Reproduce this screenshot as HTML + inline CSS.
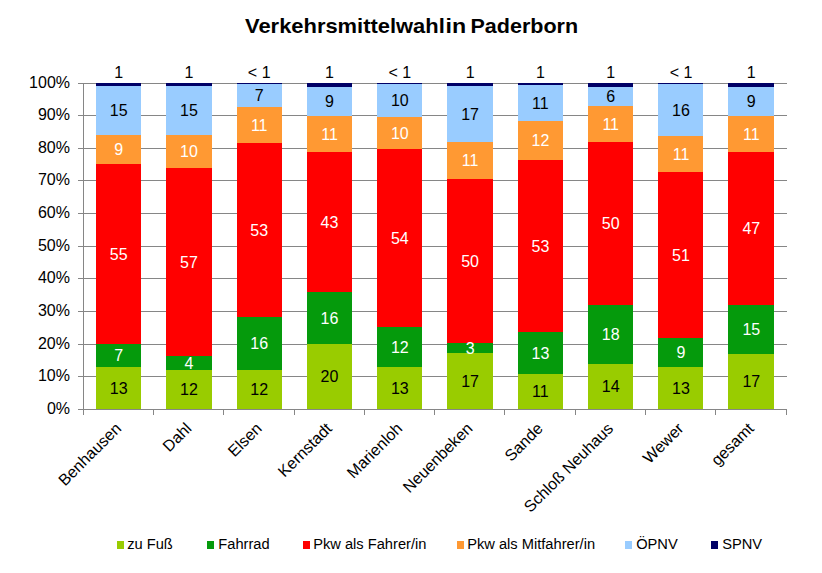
<!DOCTYPE html>
<html><head><meta charset="utf-8"><title>Verkehrsmittelwahl in Paderborn</title>
<style>html,body{margin:0;padding:0;background:#fff}body{width:822px;height:573px;overflow:hidden}</style></head>
<body>
<svg width="822" height="573" viewBox="0 0 822 573" style="display:block;font-family:'Liberation Sans',sans-serif">
<rect width="822" height="573" fill="#fff"/>
<rect x="78" y="409" width="709" height="1" fill="#868686"/>
<rect x="78" y="376" width="709" height="1" fill="#868686"/>
<rect x="78" y="344" width="709" height="1" fill="#868686"/>
<rect x="78" y="311" width="709" height="1" fill="#868686"/>
<rect x="78" y="278" width="709" height="1" fill="#868686"/>
<rect x="78" y="246" width="709" height="1" fill="#868686"/>
<rect x="78" y="213" width="709" height="1" fill="#868686"/>
<rect x="78" y="180" width="709" height="1" fill="#868686"/>
<rect x="78" y="148" width="709" height="1" fill="#868686"/>
<rect x="78" y="115" width="709" height="1" fill="#868686"/>
<rect x="78" y="83" width="709" height="1" fill="#868686"/>
<rect x="96" y="367" width="45" height="42" fill="#99CC00"/>
<rect x="96" y="344" width="45" height="23" fill="#059A0C"/>
<rect x="96" y="164" width="45" height="180" fill="#FF0000"/>
<rect x="96" y="135" width="45" height="29" fill="#FF9933"/>
<rect x="96" y="86" width="45" height="49" fill="#99CCFF"/>
<rect x="96" y="83" width="45" height="3" fill="#000066"/>
<rect x="166" y="370" width="46" height="39" fill="#99CC00"/>
<rect x="166" y="356" width="46" height="14" fill="#059A0C"/>
<rect x="166" y="168" width="46" height="188" fill="#FF0000"/>
<rect x="166" y="135" width="46" height="33" fill="#FF9933"/>
<rect x="166" y="86" width="46" height="49" fill="#99CCFF"/>
<rect x="166" y="83" width="46" height="3" fill="#000066"/>
<rect x="237" y="370" width="45" height="39" fill="#99CC00"/>
<rect x="237" y="317" width="45" height="53" fill="#059A0C"/>
<rect x="237" y="143" width="45" height="174" fill="#FF0000"/>
<rect x="237" y="107" width="45" height="36" fill="#FF9933"/>
<rect x="237" y="84" width="45" height="23" fill="#99CCFF"/>
<rect x="237" y="83" width="45" height="1" fill="#000066"/>
<rect x="307" y="344" width="45" height="65" fill="#99CC00"/>
<rect x="307" y="292" width="45" height="52" fill="#059A0C"/>
<rect x="307" y="152" width="45" height="140" fill="#FF0000"/>
<rect x="307" y="116" width="45" height="36" fill="#FF9933"/>
<rect x="307" y="87" width="45" height="29" fill="#99CCFF"/>
<rect x="307" y="83" width="45" height="4" fill="#000066"/>
<rect x="377" y="367" width="45" height="42" fill="#99CC00"/>
<rect x="377" y="327" width="45" height="40" fill="#059A0C"/>
<rect x="377" y="149" width="45" height="178" fill="#FF0000"/>
<rect x="377" y="117" width="45" height="32" fill="#FF9933"/>
<rect x="377" y="84" width="45" height="33" fill="#99CCFF"/>
<rect x="377" y="83" width="45" height="1" fill="#000066"/>
<rect x="447" y="353" width="46" height="56" fill="#99CC00"/>
<rect x="447" y="343" width="46" height="10" fill="#059A0C"/>
<rect x="447" y="179" width="46" height="164" fill="#FF0000"/>
<rect x="447" y="142" width="46" height="37" fill="#FF9933"/>
<rect x="447" y="86" width="46" height="56" fill="#99CCFF"/>
<rect x="447" y="83" width="46" height="3" fill="#000066"/>
<rect x="518" y="374" width="45" height="35" fill="#99CC00"/>
<rect x="518" y="332" width="45" height="42" fill="#059A0C"/>
<rect x="518" y="160" width="45" height="172" fill="#FF0000"/>
<rect x="518" y="121" width="45" height="39" fill="#FF9933"/>
<rect x="518" y="85" width="45" height="36" fill="#99CCFF"/>
<rect x="518" y="83" width="45" height="2" fill="#000066"/>
<rect x="588" y="364" width="45" height="45" fill="#99CC00"/>
<rect x="588" y="305" width="45" height="59" fill="#059A0C"/>
<rect x="588" y="142" width="45" height="163" fill="#FF0000"/>
<rect x="588" y="106" width="45" height="36" fill="#FF9933"/>
<rect x="588" y="87" width="45" height="19" fill="#99CCFF"/>
<rect x="588" y="83" width="45" height="4" fill="#000066"/>
<rect x="658" y="367" width="45" height="42" fill="#99CC00"/>
<rect x="658" y="338" width="45" height="29" fill="#059A0C"/>
<rect x="658" y="172" width="45" height="166" fill="#FF0000"/>
<rect x="658" y="136" width="45" height="36" fill="#FF9933"/>
<rect x="658" y="84" width="45" height="52" fill="#99CCFF"/>
<rect x="658" y="83" width="45" height="1" fill="#000066"/>
<rect x="728" y="354" width="46" height="55" fill="#99CC00"/>
<rect x="728" y="305" width="46" height="49" fill="#059A0C"/>
<rect x="728" y="152" width="46" height="153" fill="#FF0000"/>
<rect x="728" y="116" width="46" height="36" fill="#FF9933"/>
<rect x="728" y="87" width="46" height="29" fill="#99CCFF"/>
<rect x="728" y="83" width="46" height="4" fill="#000066"/>
<rect x="83" y="83" width="1" height="332" fill="#868686"/>
<rect x="78" y="409" width="709" height="1" fill="#868686"/>
<rect x="153" y="409" width="1" height="6" fill="#868686"/>
<rect x="223" y="409" width="1" height="6" fill="#868686"/>
<rect x="294" y="409" width="1" height="6" fill="#868686"/>
<rect x="364" y="409" width="1" height="6" fill="#868686"/>
<rect x="434" y="409" width="1" height="6" fill="#868686"/>
<rect x="504" y="409" width="1" height="6" fill="#868686"/>
<rect x="575" y="409" width="1" height="6" fill="#868686"/>
<rect x="645" y="409" width="1" height="6" fill="#868686"/>
<rect x="715" y="409" width="1" height="6" fill="#868686"/>
<rect x="786" y="409" width="1" height="6" fill="#868686"/>
<text x="70" y="414.2" font-size="16" text-anchor="end" fill="#000">0%</text>
<text x="70" y="381.2" font-size="16" text-anchor="end" fill="#000">10%</text>
<text x="70" y="349.2" font-size="16" text-anchor="end" fill="#000">20%</text>
<text x="70" y="316.2" font-size="16" text-anchor="end" fill="#000">30%</text>
<text x="70" y="283.2" font-size="16" text-anchor="end" fill="#000">40%</text>
<text x="70" y="251.2" font-size="16" text-anchor="end" fill="#000">50%</text>
<text x="70" y="218.2" font-size="16" text-anchor="end" fill="#000">60%</text>
<text x="70" y="185.2" font-size="16" text-anchor="end" fill="#000">70%</text>
<text x="70" y="153.2" font-size="16" text-anchor="end" fill="#000">80%</text>
<text x="70" y="120.2" font-size="16" text-anchor="end" fill="#000">90%</text>
<text x="70" y="88.2" font-size="16" text-anchor="end" fill="#000">100%</text>
<text x="118.7" y="393.7" font-size="16" text-anchor="middle" fill="#000">13</text>
<text x="118.7" y="361.3" font-size="16" text-anchor="middle" fill="#fff">7</text>
<text x="118.7" y="259.9" font-size="16" text-anchor="middle" fill="#fff">55</text>
<text x="118.7" y="155.2" font-size="16" text-anchor="middle" fill="#fff">9</text>
<text x="118.7" y="116.0" font-size="16" text-anchor="middle" fill="#000">15</text>
<text x="118.7" y="77.6" font-size="16" text-anchor="middle" fill="#000">1</text>
<text x="189.0" y="395.2" font-size="16" text-anchor="middle" fill="#000">12</text>
<text x="189.0" y="368.6" font-size="16" text-anchor="middle" fill="#fff">4</text>
<text x="189.0" y="267.6" font-size="16" text-anchor="middle" fill="#fff">57</text>
<text x="189.0" y="156.9" font-size="16" text-anchor="middle" fill="#fff">10</text>
<text x="189.0" y="115.9" font-size="16" text-anchor="middle" fill="#000">15</text>
<text x="189.0" y="77.6" font-size="16" text-anchor="middle" fill="#000">1</text>
<text x="259.2" y="395.2" font-size="16" text-anchor="middle" fill="#000">12</text>
<text x="259.2" y="349.2" font-size="16" text-anchor="middle" fill="#fff">16</text>
<text x="259.2" y="235.7" font-size="16" text-anchor="middle" fill="#fff">53</text>
<text x="259.2" y="130.7" font-size="16" text-anchor="middle" fill="#fff">11</text>
<text x="259.2" y="101.4" font-size="16" text-anchor="middle" fill="#000">7</text>
<text x="259.2" y="77.6" font-size="16" text-anchor="middle" fill="#000">&lt; 1</text>
<text x="329.5" y="382.2" font-size="16" text-anchor="middle" fill="#000">20</text>
<text x="329.5" y="323.7" font-size="16" text-anchor="middle" fill="#fff">16</text>
<text x="329.5" y="227.6" font-size="16" text-anchor="middle" fill="#fff">43</text>
<text x="329.5" y="139.7" font-size="16" text-anchor="middle" fill="#fff">11</text>
<text x="329.5" y="107.3" font-size="16" text-anchor="middle" fill="#000">9</text>
<text x="329.5" y="77.6" font-size="16" text-anchor="middle" fill="#000">1</text>
<text x="399.8" y="393.7" font-size="16" text-anchor="middle" fill="#000">13</text>
<text x="399.8" y="352.6" font-size="16" text-anchor="middle" fill="#fff">12</text>
<text x="399.8" y="243.6" font-size="16" text-anchor="middle" fill="#fff">54</text>
<text x="399.8" y="138.5" font-size="16" text-anchor="middle" fill="#fff">10</text>
<text x="399.8" y="106.1" font-size="16" text-anchor="middle" fill="#000">10</text>
<text x="399.8" y="77.6" font-size="16" text-anchor="middle" fill="#000">&lt; 1</text>
<text x="470.1" y="386.7" font-size="16" text-anchor="middle" fill="#000">17</text>
<text x="470.1" y="353.6" font-size="16" text-anchor="middle" fill="#fff">3</text>
<text x="470.1" y="266.8" font-size="16" text-anchor="middle" fill="#fff">50</text>
<text x="470.1" y="166.3" font-size="16" text-anchor="middle" fill="#fff">11</text>
<text x="470.1" y="119.5" font-size="16" text-anchor="middle" fill="#000">17</text>
<text x="470.1" y="77.6" font-size="16" text-anchor="middle" fill="#000">1</text>
<text x="540.4" y="397.1" font-size="16" text-anchor="middle" fill="#000">11</text>
<text x="540.4" y="358.6" font-size="16" text-anchor="middle" fill="#fff">13</text>
<text x="540.4" y="251.7" font-size="16" text-anchor="middle" fill="#fff">53</text>
<text x="540.4" y="146.3" font-size="16" text-anchor="middle" fill="#fff">12</text>
<text x="540.4" y="108.8" font-size="16" text-anchor="middle" fill="#000">11</text>
<text x="540.4" y="77.6" font-size="16" text-anchor="middle" fill="#000">1</text>
<text x="610.7" y="392.1" font-size="16" text-anchor="middle" fill="#000">14</text>
<text x="610.7" y="340.1" font-size="16" text-anchor="middle" fill="#fff">18</text>
<text x="610.7" y="229.1" font-size="16" text-anchor="middle" fill="#fff">50</text>
<text x="610.7" y="129.8" font-size="16" text-anchor="middle" fill="#fff">11</text>
<text x="610.7" y="102.4" font-size="16" text-anchor="middle" fill="#000">6</text>
<text x="610.7" y="77.6" font-size="16" text-anchor="middle" fill="#000">1</text>
<text x="681.0" y="393.7" font-size="16" text-anchor="middle" fill="#000">13</text>
<text x="681.0" y="358.1" font-size="16" text-anchor="middle" fill="#fff">9</text>
<text x="681.0" y="260.6" font-size="16" text-anchor="middle" fill="#fff">51</text>
<text x="681.0" y="159.8" font-size="16" text-anchor="middle" fill="#fff">11</text>
<text x="681.0" y="115.8" font-size="16" text-anchor="middle" fill="#000">16</text>
<text x="681.0" y="77.6" font-size="16" text-anchor="middle" fill="#000">&lt; 1</text>
<text x="751.3" y="387.1" font-size="16" text-anchor="middle" fill="#000">17</text>
<text x="751.3" y="335.1" font-size="16" text-anchor="middle" fill="#fff">15</text>
<text x="751.3" y="234.0" font-size="16" text-anchor="middle" fill="#fff">47</text>
<text x="751.3" y="139.5" font-size="16" text-anchor="middle" fill="#fff">11</text>
<text x="751.3" y="107.0" font-size="16" text-anchor="middle" fill="#000">9</text>
<text x="751.3" y="77.6" font-size="16" text-anchor="middle" fill="#000">1</text>
<text transform="translate(122.2,429.5) rotate(-45)" font-size="16" text-anchor="end" fill="#000">Benhausen</text>
<text transform="translate(192.5,429.5) rotate(-45)" font-size="16" text-anchor="end" fill="#000">Dahl</text>
<text transform="translate(262.8,429.5) rotate(-45)" font-size="16" text-anchor="end" fill="#000">Elsen</text>
<text transform="translate(333.0,429.5) rotate(-45)" font-size="16" text-anchor="end" fill="#000">Kernstadt</text>
<text transform="translate(403.3,429.5) rotate(-45)" font-size="16" text-anchor="end" fill="#000">Marienloh</text>
<text transform="translate(473.6,429.5) rotate(-45)" font-size="16" text-anchor="end" fill="#000">Neuenbeken</text>
<text transform="translate(543.9,429.5) rotate(-45)" font-size="16" text-anchor="end" fill="#000">Sande</text>
<text transform="translate(614.2,429.5) rotate(-45)" font-size="16" text-anchor="end" fill="#000">Schloß Neuhaus</text>
<text transform="translate(684.5,429.5) rotate(-45)" font-size="16" text-anchor="end" fill="#000">Wewer</text>
<text transform="translate(754.8,429.5) rotate(-45)" font-size="16" text-anchor="end" fill="#000">gesamt</text>
<g font-size="20.5" font-weight="bold" fill="#000"><text x="245" y="32.7" textLength="199.8" lengthAdjust="spacingAndGlyphs">Verkehrsmittelwahl</text><text x="445.5" y="32.7" textLength="20.6" lengthAdjust="spacingAndGlyphs">in</text><text x="470.5" y="32.7" textLength="107.6" lengthAdjust="spacingAndGlyphs">Paderborn</text></g>
<rect x="117" y="541" width="7" height="8" fill="#99CC00"/>
<text x="127.2" y="549" font-size="14.67" fill="#000">zu Fuß</text>
<rect x="207" y="541" width="7" height="8" fill="#059A0C"/>
<text x="218.3" y="549" font-size="14.67" fill="#000">Fahrrad</text>
<rect x="303" y="541" width="7" height="8" fill="#FF0000"/>
<text x="313.2" y="549" font-size="14.67" fill="#000">Pkw als Fahrer/in</text>
<rect x="457" y="541" width="7" height="8" fill="#FF9933"/>
<text x="467.2" y="549" font-size="14.67" fill="#000">Pkw als Mitfahrer/in</text>
<rect x="625" y="541" width="7" height="8" fill="#99CCFF"/>
<text x="636.2" y="549" font-size="14.67" fill="#000">ÖPNV</text>
<rect x="711" y="541" width="7" height="8" fill="#000066"/>
<text x="722.2" y="549" font-size="14.67" fill="#000">SPNV</text>
</svg>
</body></html>
